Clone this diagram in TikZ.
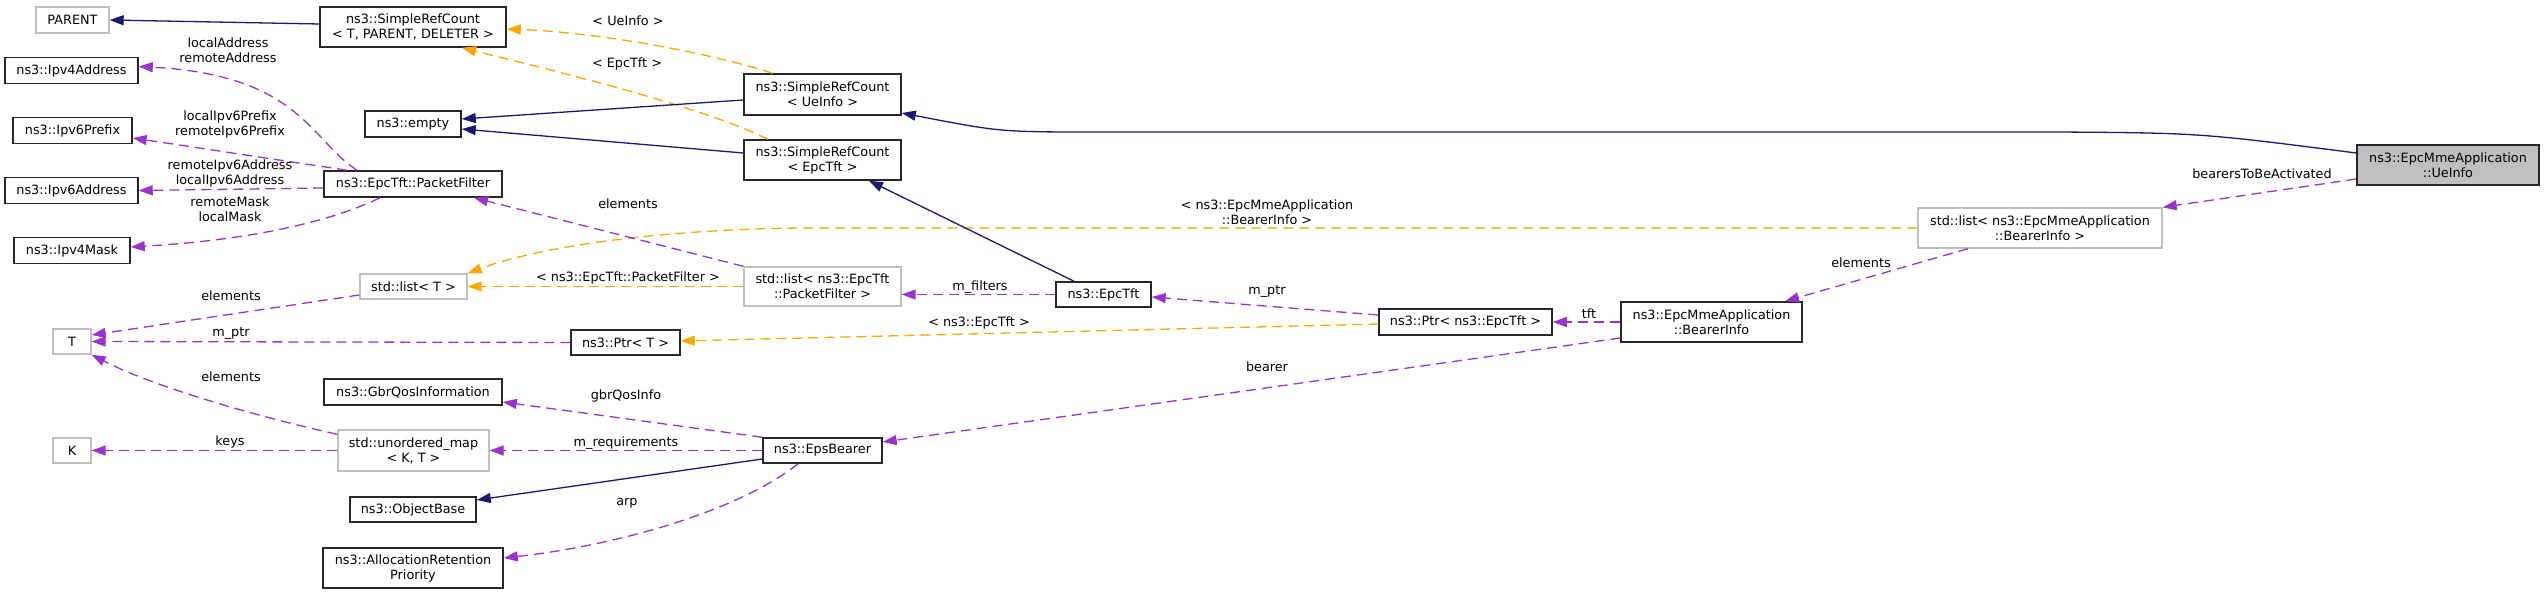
\documentclass[tikz,border=0pt]{standalone}
\usepackage{fontspec}
\setmainfont{DejaVu Sans}
\usetikzlibrary{arrows.meta}
\definecolor{navy}{HTML}{191970}
\definecolor{orchid}{HTML}{9A32CD}
\definecolor{dorange}{HTML}{FFA500}
\definecolor{gborder}{HTML}{BFBFBF}
\definecolor{gfill}{HTML}{BFBFBF}
\newcommand{\myfs}{\fontsize{12.8}{15}\selectfont}
\begin{document}
\begin{tikzpicture}[x=1pt,y=-1pt,
 box/.style={draw=black!85, line width=1.5pt, fill=white, inner sep=0pt, align=center, font=\myfs, minimum height=26pt},
 gbox/.style={box, draw=gborder, line width=1.4pt},
 tall/.style={minimum height=40pt},
 lbl/.style={font=\myfs, align=center, inner sep=0pt},
 arr/.style={-{Triangle[length=14pt,width=10pt]}},
 inhE/.style={arr, draw=navy, line width=1.3pt},
 useE/.style={arr, draw=orchid, line width=1.3pt, dash pattern=on 10pt off 6pt},
 tmpE/.style={arr, draw=dorange, line width=1.3pt, dash pattern=on 10pt off 6pt},
]
\useasboundingbox (0,0) rectangle (2544,593);
% nodes
\node[gbox, minimum width=73pt] (parent) at (72.5,20) {PARENT};
\node[box, tall, minimum width=186pt] (srcT) at (413,27) {ns3::SimpleRefCount\\< T, PARENT, DELETER >};
\node[box, minimum width=133pt] (ipv4a) at (71.5,70.5) {ns3::Ipv4Address};
\node[box, minimum width=119pt] (ipv6p) at (72.5,130.5) {ns3::Ipv6Prefix};
\node[box, minimum width=133pt] (ipv6a) at (71.5,190.5) {ns3::Ipv6Address};
\node[box, minimum width=116pt] (ipv4m) at (72,250.5) {ns3::Ipv4Mask};
\node[box, minimum width=96pt] (empty) at (413,124) {ns3::empty};
\node[box, minimum width=178pt] (pf) at (413,184) {ns3::EpcTft::PacketFilter};
\node[box, tall, minimum width=157pt, minimum height=41pt] (srcU) at (822.5,94.5) {ns3::SimpleRefCount\\< UeInfo >};
\node[box, tall, minimum width=157pt] (srcE) at (822.5,160) {ns3::SimpleRefCount\\< EpcTft >};
\node[gbox, minimum width=107pt, minimum height=25pt] (listT) at (413.5,286.5) {std::list< T >};
\node[gbox, tall, minimum width=157pt, minimum height=39pt] (listPF) at (822.5,286.5) {std::list< ns3::EpcTft\\::PacketFilter >};
\node[box, minimum width=95pt, minimum height=25pt] (epctft) at (1103.5,294.5) {ns3::EpcTft};
\node[gbox, minimum width=38pt, minimum height=25pt] (T) at (72,341.5) {T};
\node[box, minimum width=109pt, minimum height=25pt] (ptrT) at (625.5,342.5) {ns3::Ptr< T >};
\node[box, minimum width=173pt] (ptrE) at (1465.5,322) {ns3::Ptr< ns3::EpcTft >};
\node[box, tall, minimum width=181pt] (bi) at (1711.5,322) {ns3::EpcMmeApplication\\::BearerInfo};
\node[gbox, tall, minimum width=244pt] (listBI) at (2040,228) {std::list< ns3::EpcMmeApplication\\::BearerInfo >};
\node[box, tall, fill=gfill, minimum width=182pt] (ue) at (2448,165) {ns3::EpcMmeApplication\\::UeInfo};
\node[box, minimum width=178pt] (gbr) at (413,392) {ns3::GbrQosInformation};
\node[gbox, minimum width=38pt, minimum height=25pt] (K) at (72,450.5) {K};
\node[gbox, tall, minimum width=151pt, minimum height=41pt] (umap) at (413.5,450.5) {std::unordered\_map\\< K, T >};
\node[box, minimum width=119pt, minimum height=25pt] (eps) at (822.5,450.5) {ns3::EpsBearer};
\node[box, minimum width=126pt, minimum height=25pt] (objb) at (413,509.5) {ns3::ObjectBase};
\node[box, tall, minimum width=180pt] (arp) at (413,568) {ns3::AllocationRetention\\Priority};
% edges
\draw[inhE] ([yshift=3pt]srcT.west) -- (parent.east);
\draw[tmpE] ([xshift=-50pt]srcU.north) .. controls (700,50) and (590,32) .. ([yshift=-2pt]srcT.east);
\draw[tmpE] ([xshift=-54.5pt]srcE.north) .. controls (700,105) and (530,65) .. ([xshift=49pt]srcT.south);
\draw[inhE] ([yshift=-5.5pt]srcU.west) -- ([yshift=5pt]empty.east);
\draw[inhE] ([yshift=7pt]srcE.west) -- ([yshift=-5pt]empty.east);
\draw[inhE] ([yshift=12pt]ue.west) .. controls (2200,133) .. (2057,132) -- (1096,132) .. controls (1000,132) .. ([yshift=-18.5pt]srcU.east);
\draw[useE] ([yshift=-14pt]ue.west) -- (listBI.north east);
\draw[useE] ([xshift=-72pt]listBI.south) -- ([xshift=73.5pt]bi.north);
\draw[tmpE] (listBI.west) -- (800,228) .. controls (640,230) and (530,250) .. (listT.north east);
\draw[tmpE] (listPF.west) -- (listT.east);
\draw[useE] (listPF.north west) -- ([xshift=61pt]pf.south);
\draw[useE] (epctft.west) -- ([yshift=-8pt]listPF.east);
\draw[inhE] ([xshift=-29.5pt]epctft.north) -- ([xshift=46.5pt]srcE.south);
\draw[useE] ([yshift=7pt]ptrE.west) -- ([yshift=-2.5pt]epctft.east);
\draw[tmpE] ([yshift=-2pt]ptrE.west) -- ([yshift=1.5pt]ptrT.east);
\draw[useE] (bi.west) -- (ptrE.east);
\draw[useE] ([yshift=-16pt]bi.west) -- ([yshift=8.5pt]eps.east);
\draw[useE] ([xshift=-56pt]pf.north) .. controls (310,140) and (300,75) .. ([yshift=4pt]ipv4a.east);
\draw[useE] ([xshift=-66pt]pf.north) -- ([yshift=-7.5pt]ipv6p.east);
\draw[useE] ([yshift=-4pt]pf.west) -- (ipv6a.east);
\draw[useE] ([xshift=-33pt]pf.south) .. controls (330,222) and (250,240) .. ([yshift=3.5pt]ipv4m.east);
\draw[useE] ([yshift=-8.5pt]listT.west) -- ([yshift=6.5pt]T.east);
\draw[useE] (ptrT.west) -- (T.east);
\draw[useE] ([yshift=-5pt]umap.north west) .. controls (250,415) and (150,385) .. (T.south east);
\draw[useE] (umap.west) -- (K.east);
\draw[useE] (eps.north west) -- ([yshift=-10pt]gbr.east);
\draw[useE] (eps.west) -- (umap.east);
\draw[inhE] ([yshift=-8.5pt]eps.west) -- ([yshift=9.5pt]objb.east);
\draw[useE] ([xshift=-24.5pt]eps.south) .. controls (740,510) and (620,545) .. ([yshift=10pt]arp.east);
% labels
\node[lbl] (l1) at (628,21) {< UeInfo >};
\node[lbl] (l2) at (627,64) {< EpcTft >};
\node[lbl] (l3) at (228,50.5) {localAddress\\remoteAddress};
\node[lbl] (l4) at (230,124.5) {localIpv6Prefix\\remoteIpv6Prefix};
\node[lbl] (l5) at (230,173.5) {remoteIpv6Address\\localIpv6Address};
\node[lbl] (l6) at (230,209) {remoteMask\\localMask};
\node[lbl] (l7) at (628,204) {elements};
\node[lbl] (l8) at (1267,212.5) {< ns3::EpcMmeApplication\\::BearerInfo >};
\node[lbl] (l9) at (628,278) {< ns3::EpcTft::PacketFilter >};
\node[lbl] (l10) at (231,296) {elements};
\node[lbl] (l11) at (231,334) {m\_ptr};
\node[lbl] (l12) at (980,287) {m\_filters};
\node[lbl] (l13) at (1267,292) {m\_ptr};
\node[lbl] (l14) at (979,323) {< ns3::EpcTft >};
\node[lbl] (l15) at (1589,314) {tft};
\node[lbl] (l16) at (1267,367) {bearer};
\node[lbl] (l17) at (2262,174) {bearersToBeActivated};
\node[lbl] (l18) at (1861,263) {elements};
\node[lbl] (l19) at (231,377) {elements};
\node[lbl] (l20) at (230,442) {keys};
\node[lbl] (l21) at (626,396) {gbrQosInfo};
\node[lbl] (l22) at (626,443) {m\_requirements};
\node[lbl] (l23) at (627,503) {arp};
\end{tikzpicture}
\end{document}
